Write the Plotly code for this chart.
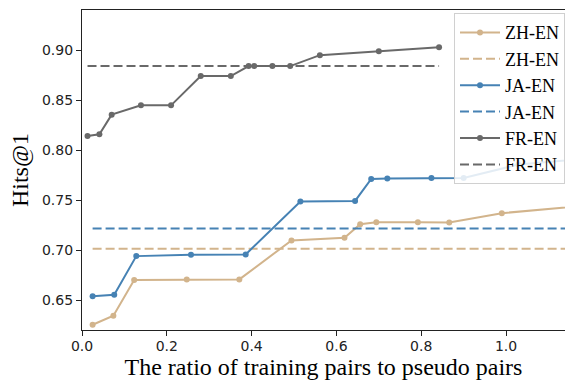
import plotly.graph_objects as go

# ---- data ----
zh_x = [0.025, 0.074, 0.123, 0.247, 0.371, 0.494, 0.619, 0.656, 0.694, 0.792, 0.866, 0.990, 1.20]
zh_y = [0.6253, 0.6343, 0.670, 0.6707, 0.6707, 0.7097, 0.7123, 0.726, 0.728, 0.728, 0.7277, 0.737, 0.745]
zh_base = 0.7013

ja_x = [0.025, 0.076, 0.128, 0.257, 0.386, 0.515, 0.644, 0.682, 0.720, 0.824, 0.900, 1.029, 1.20]
ja_y = [0.6537, 0.6553, 0.694, 0.6953, 0.6957, 0.7487, 0.7493, 0.7713, 0.7717, 0.7723, 0.7723, 0.7857, 0.792]
ja_base = 0.7217

fr_x = [0.013, 0.041, 0.070, 0.139, 0.210, 0.280, 0.351, 0.393, 0.406, 0.449, 0.491, 0.561, 0.700, 0.842]
fr_y = [0.8143, 0.816, 0.8357, 0.845, 0.845, 0.8743, 0.8743, 0.8843, 0.8843, 0.8843, 0.8843, 0.8953, 0.8993, 0.9033]
fr_base = 0.8843

base_x_zh = [0.025, 1.20]
base_x_ja = [0.025, 1.20]
base_x_fr = [0.013, 0.842]

x_ticks = [0.0, 0.2, 0.4, 0.6, 0.8, 1.0]
y_ticks = [0.65, 0.70, 0.75, 0.80, 0.85, 0.90]

C_ZH = "#D2B48C"
C_JA = "#4682B4"
C_FR = "#696969"

fig = go.Figure()

def add(xs, ys, color, name):
    fig.add_trace(go.Scatter(x=xs, y=ys, mode="lines+markers", name=name,
                             line=dict(color=color, width=2),
                             marker=dict(color=color, size=6)))

def add_base(xs, val, color, name):
    fig.add_trace(go.Scatter(x=xs, y=[val] * len(xs), mode="lines", name=name,
                             line=dict(color=color, width=2, dash="9px,4px")))

add(zh_x, zh_y, C_ZH, "ZH-EN")
add_base(base_x_zh, zh_base, C_ZH, "ZH-EN")
add(ja_x, ja_y, C_JA, "JA-EN")
add_base(base_x_ja, ja_base, C_JA, "JA-EN")
add(fr_x, fr_y, C_FR, "FR-EN")
add_base(base_x_fr, fr_base, C_FR, "FR-EN")

SERIF = "Liberation Serif, Times New Roman, serif"

fig.update_layout(
    width=565, height=380,
    margin=dict(l=82, r=0, t=10, b=50, autoexpand=False),
    paper_bgcolor="white", plot_bgcolor="white",
    showlegend=True,
    legend=dict(x=1.0, y=0.99, xanchor="right", yanchor="top",
                bgcolor="rgba(255,255,255,0.85)", bordercolor="#d0d0d0", borderwidth=1,
                font=dict(family=SERIF, size=18, color="black"),
                itemwidth=40, tracegroupgap=0),
)
fig.update_xaxes(range=[0, 1.139], tickvals=x_ticks, ticktext=[f"{v:.1f}" for v in x_ticks],
                 showgrid=False, zeroline=False, showline=True, linecolor="#222", linewidth=1.2,
                 mirror=True, ticks="outside", ticklen=5, tickwidth=1.2, tickcolor="#222",
                 ticklabelstandoff=-2,
                 tickfont=dict(family="DejaVu Sans", size=14, color="#222"),
                 title=dict(text="The ratio of training pairs to pseudo pairs",
                            font=dict(family=SERIF, size=24, color="black"),
                            standoff=4))
fig.update_yaxes(range=[0.62, 0.9405], tickvals=y_ticks, ticktext=[f"{v:.2f}" for v in y_ticks],
                 showgrid=False, zeroline=False, showline=True, linecolor="#222", linewidth=1.2,
                 ticks="outside", ticklen=5, tickwidth=1.2, tickcolor="#222",
                 tickfont=dict(family="DejaVu Sans", size=14, color="#222"),
                 title=dict(text="Hits@1",
                            font=dict(family=SERIF, size=24, color="black"),
                            standoff=6))

fig.write_html("out.html", config={"displayModeBar": False},
               post_script="document.body.style.margin='0';document.body.style.overflow='hidden';")
